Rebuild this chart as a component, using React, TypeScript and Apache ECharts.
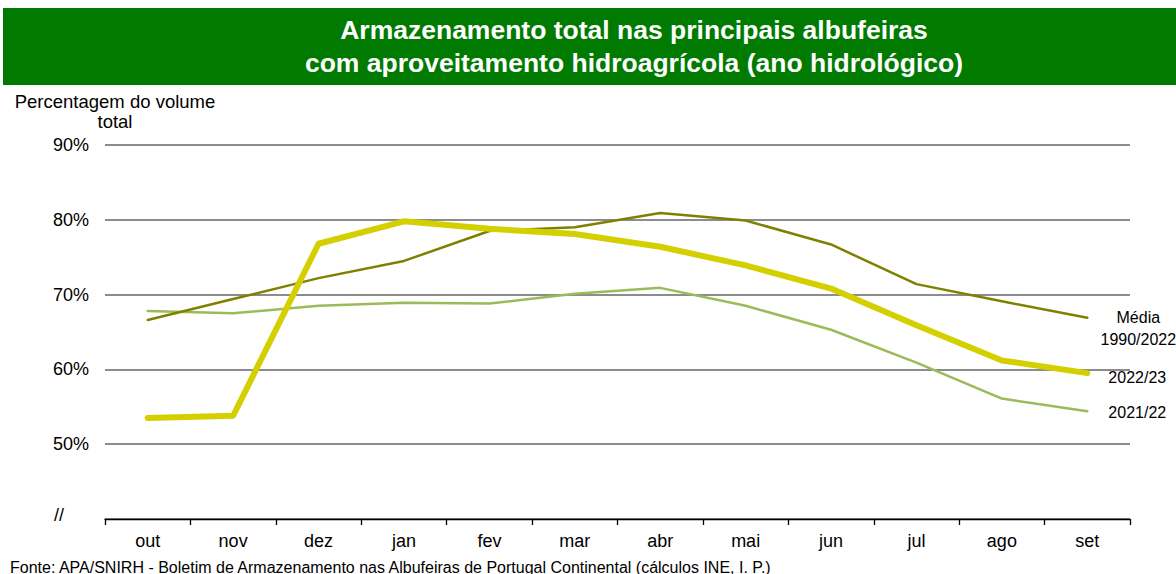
import React, { useEffect, useRef } from "react";
import * as echarts from "echarts";

const months = ["out", "nov", "dez", "jan", "fev", "mar", "abr", "mai", "jun", "jul", "ago", "set"];
const media = [66.6, 69.4, 72.2, 74.5, 78.5, 79.0, 80.9, 79.9, 76.7, 71.4, 69.1, 66.9];
const y2223 = [53.5, 53.8, 76.8, 79.8, 78.8, 78.1, 76.4, 73.9, 70.8, 65.9, 61.2, 59.5];
const y2122 = [67.8, 67.5, 68.5, 68.9, 68.8, 70.1, 70.9, 68.5, 65.3, 60.9, 56.1, 54.4];
const yTicks = [40, 50, 60, 70, 80, 90];

const FONT = "Liberation Sans, Arial, sans-serif";

export default function App() {
  const ref = useRef<HTMLDivElement>(null);
  useEffect(() => {
    if (!ref.current) return;
    const chart = echarts.init(ref.current, null, { renderer: "svg" });
    chart.setOption({
      animation: false,
      backgroundColor: "#ffffff",
      textStyle: { fontFamily: FONT },
      grid: { left: 105, right: 46, top: 145, bottom: 55, containLabel: false },
      xAxis: {
        type: "category",
        data: months,
        boundaryGap: true,
        axisLine: { show: true, lineStyle: { color: "#000", width: 1.3 } },
        axisTick: { show: true, alignWithLabel: false, length: 6, lineStyle: { color: "#000", width: 1.3 } },
        axisLabel: { color: "#000", fontSize: 18, fontFamily: FONT, margin: 13 },
        splitLine: { show: false },
      },
      yAxis: {
        type: "value",
        min: yTicks[0],
        max: yTicks[yTicks.length - 1],
        interval: 10,
        axisLine: { show: false },
        axisTick: { show: false },
        axisLabel: {
          color: "#000",
          fontSize: 18,
          fontFamily: FONT,
          margin: 16,
          formatter: (v: number) => (v === yTicks[0] ? "" : v + "%"),
        },
        splitLine: { show: true, lineStyle: { color: "#8c8c8c", width: 2 } },
      },
      graphic: [
        { type: "rect", shape: { x: 3, y: 8, width: 1173, height: 77 }, style: { fill: "#007a00" }, silent: true },
        {
          type: "text",
          x: 634,
          y: 30,
          style: {
            text: "Armazenamento total nas principais albufeiras",
            fill: "#fff",
            font: "bold 26.5px " + FONT,
            align: "center",
            verticalAlign: "middle",
          },
        },
        {
          type: "text",
          x: 634,
          y: 63,
          style: {
            text: "com aproveitamento hidroagrícola (ano hidrológico)",
            fill: "#fff",
            font: "bold 26.5px " + FONT,
            align: "center",
            verticalAlign: "middle",
          },
        },
        {
          type: "text",
          x: 115,
          y: 101,
          style: { text: "Percentagem do volume", fill: "#000", font: "18.5px " + FONT, align: "center", verticalAlign: "middle" },
        },
        {
          type: "text",
          x: 115,
          y: 121,
          style: { text: "total", fill: "#000", font: "18.5px " + FONT, align: "center", verticalAlign: "middle" },
        },
        {
          type: "text",
          x: 59,
          y: 515,
          style: { text: "//", fill: "#000", font: "18px " + FONT, align: "center", verticalAlign: "middle" },
        },
        {
          type: "text",
          x: 10,
          y: 567,
          style: {
            text: "Fonte: APA/SNIRH - Boletim de Armazenamento nas Albufeiras de Portugal Continental (cálculos INE, I. P.)",
            fill: "#000",
            font: "16px " + FONT,
            align: "left",
            verticalAlign: "middle",
          },
        },
      ],
      series: [
        {
          name: "2021/22",
          type: "line",
          data: y2122,
          symbol: "none",
          z: 2,
          lineStyle: { color: "#9bbb59", width: 2.5, cap: "round", join: "round" },
          endLabel: {
            show: true,
            formatter: "2021/22",
            color: "#000",
            fontSize: 16,
            fontFamily: FONT,
            align: "center",
            offset: [42, 1],
          },
        },
        {
          name: "Média 1990/2022",
          type: "line",
          data: media,
          symbol: "none",
          z: 3,
          lineStyle: { color: "#808000", width: 2.5, cap: "round", join: "round" },
          endLabel: {
            show: true,
            formatter: "Média\n1990/2022",
            color: "#000",
            fontSize: 16,
            lineHeight: 22,
            fontFamily: FONT,
            align: "center",
            offset: [43, 11],
          },
        },
        {
          name: "2022/23",
          type: "line",
          data: y2223,
          symbol: "none",
          z: 4,
          lineStyle: { color: "#d4d000", width: 6, cap: "round", join: "round" },
          endLabel: {
            show: true,
            formatter: "2022/23",
            color: "#000",
            fontSize: 16,
            fontFamily: FONT,
            align: "center",
            offset: [42, 4],
          },
        },
      ],
    });
    return () => chart.dispose();
  }, []);
  return <div ref={ref} style={{ width: 1176, height: 574, position: "absolute", left: 0, top: 0 }} />;
}
